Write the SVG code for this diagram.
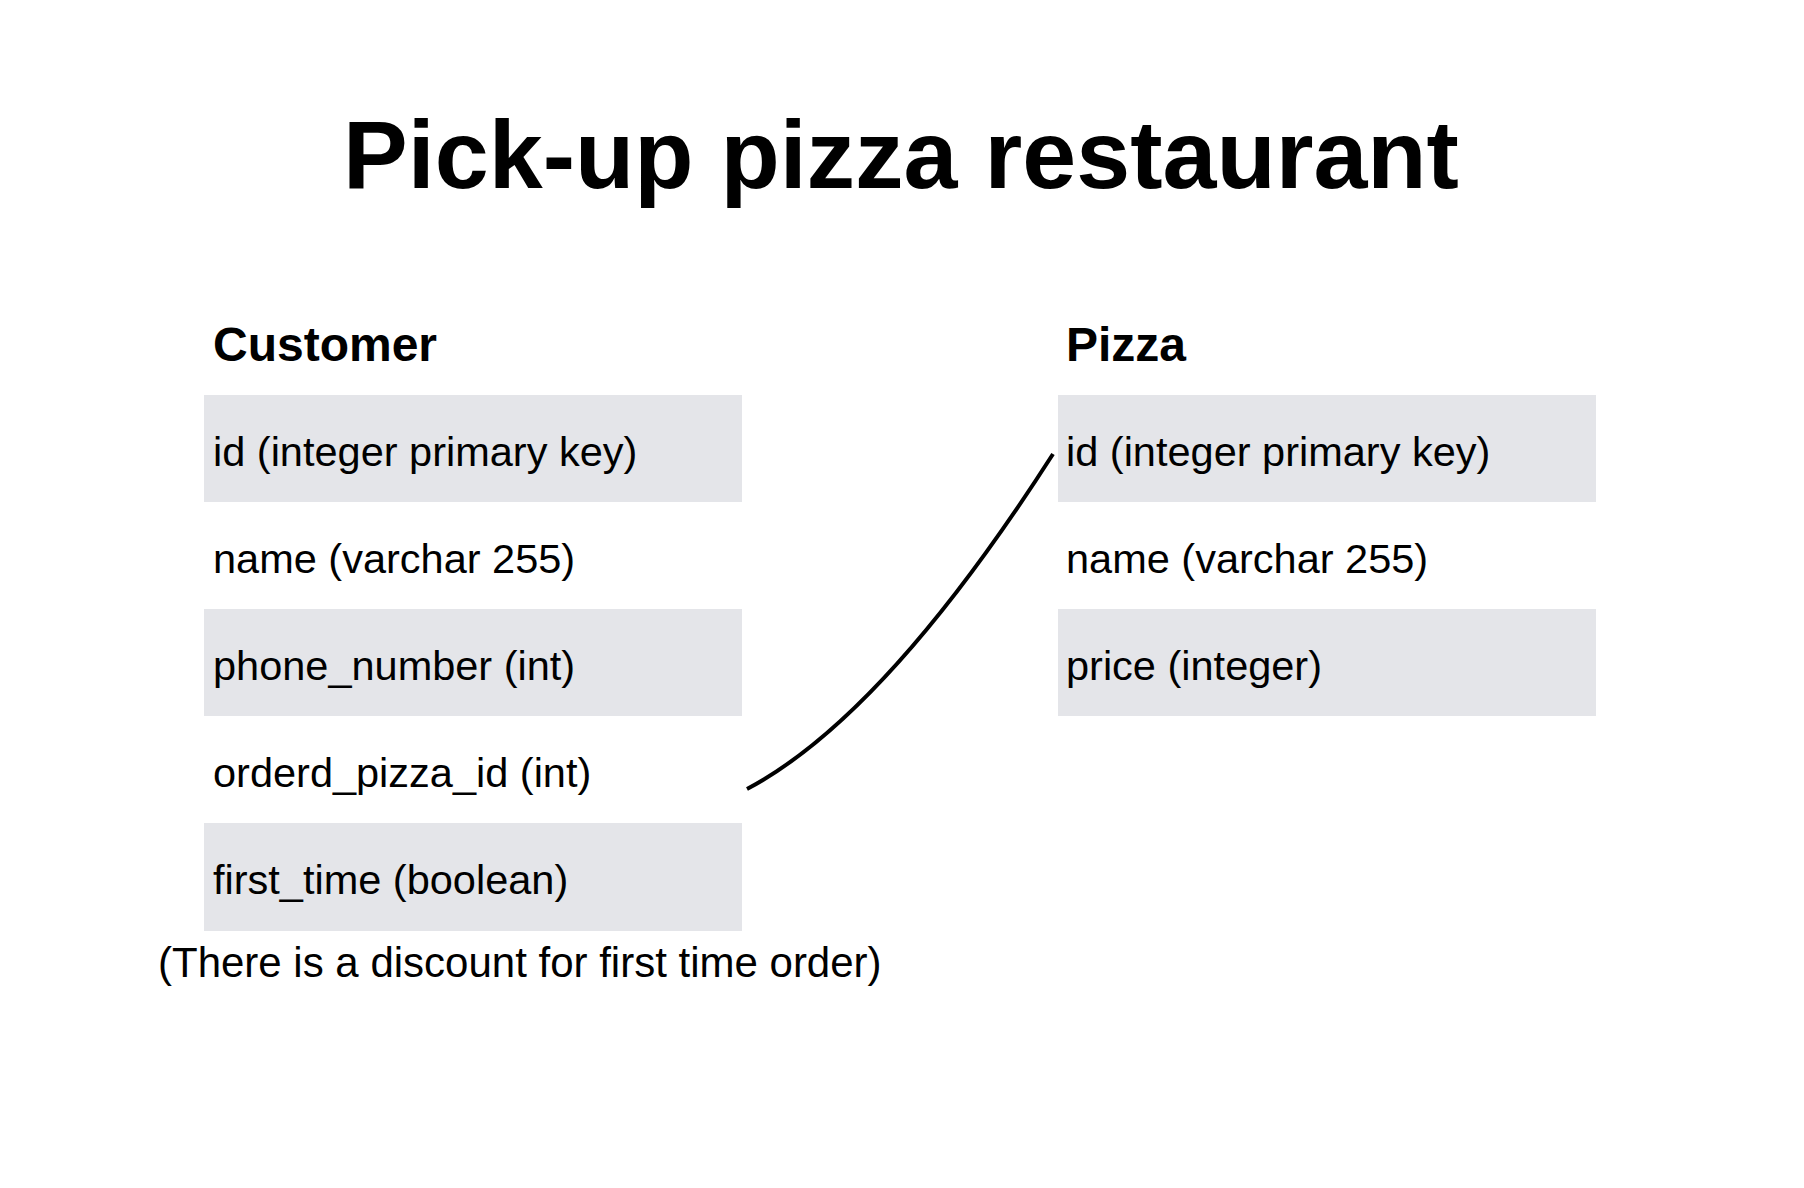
<svg xmlns="http://www.w3.org/2000/svg" width="1804" height="1188" viewBox="0 0 1804 1188">
<style>
.bg{fill:#ffffff}
.row{fill:#e4e5e9}
.title{font-family:"Liberation Sans",Arial,Helvetica,sans-serif;font-weight:bold;font-size:97px;fill:#000}
.head{font-family:"Liberation Sans",Arial,Helvetica,sans-serif;font-weight:bold;font-size:48px;fill:#000}
.field{font-family:"Liberation Sans",Arial,Helvetica,sans-serif;font-size:41.5px;fill:#000}
.note{font-family:"Liberation Sans",Arial,Helvetica,sans-serif;font-size:42px;fill:#000}
.link{fill:none;stroke:#000;stroke-width:4}
</style>
<rect class="bg" x="0" y="0" width="1804" height="1188"/>
<text class="title" x="901" y="188" text-anchor="middle">Pick-up pizza restaurant</text>
<g id="customer">
<text class="head" x="213" y="361">Customer</text>
<rect class="row" x="204" y="395" width="538" height="107"/>
<text class="field" x="213" y="466">id (integer primary key)</text>
<text class="field" x="213" y="573">name (varchar 255)</text>
<rect class="row" x="204" y="609" width="538" height="107"/>
<text class="field" x="213" y="680">phone_number (int)</text>
<text class="field" x="213" y="787">orderd_pizza_id (int)</text>
<rect class="row" x="204" y="823" width="538" height="108"/>
<text class="field" x="213" y="894">first_time (boolean)</text>
</g>
<g id="note">
<text class="note" x="158" y="977">(There is a discount for first time order)</text>
</g>
<g id="pizza">
<text class="head" x="1066" y="361">Pizza</text>
<rect class="row" x="1058" y="395" width="538" height="107"/>
<text class="field" x="1066" y="466">id (integer primary key)</text>
<text class="field" x="1066" y="573">name (varchar 255)</text>
<rect class="row" x="1058" y="609" width="538" height="107"/>
<text class="field" x="1066" y="680">price (integer)</text>
</g>
<g id="connectors">
<path class="link" d="M747,789 Q885,716 1053,454"/>
</g>
</svg>
